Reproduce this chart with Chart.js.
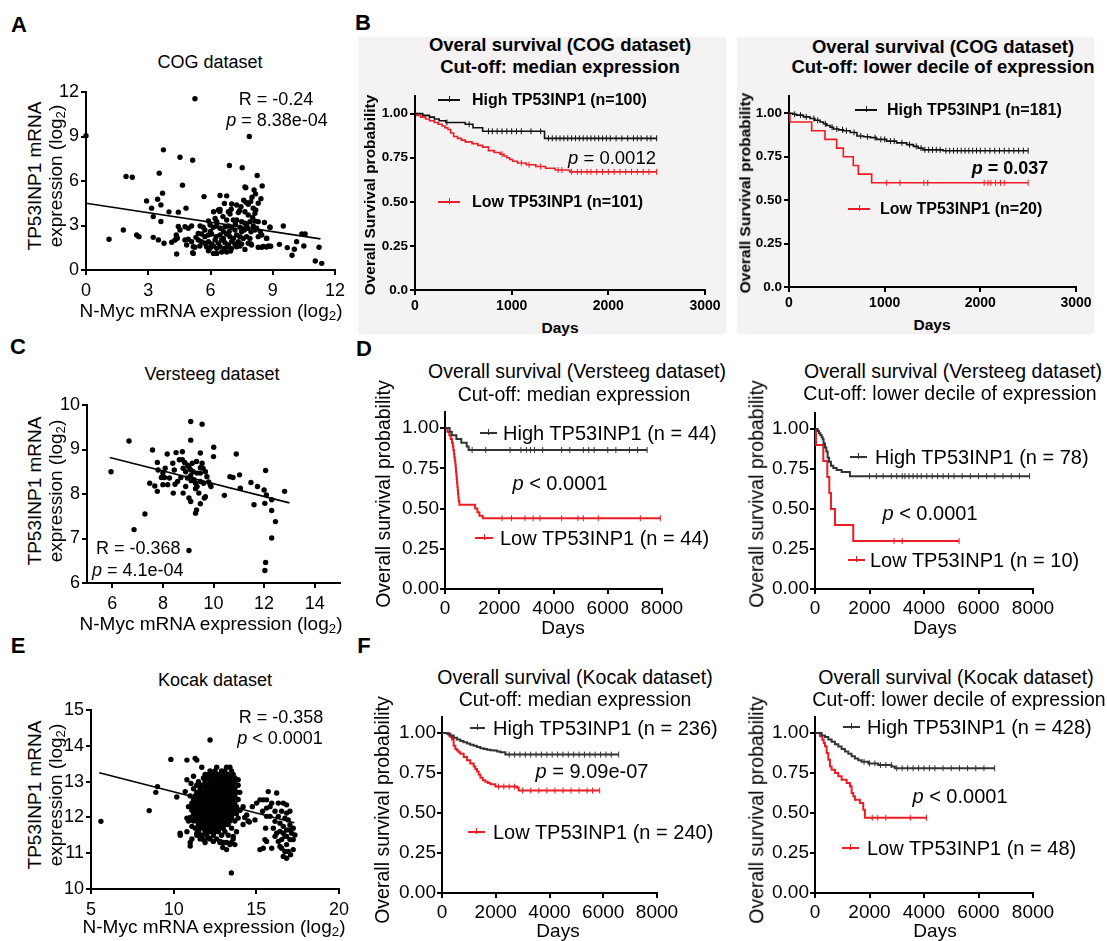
<!DOCTYPE html>
<html>
<head>
<meta charset="utf-8">
<script src="https://cdn.jsdelivr.net/npm/chart.js@4.4.0/dist/chart.umd.min.js"></script>
<style>
body { margin: 0; background: #fff; }
#page { position: relative; width: 1107px; height: 941px; overflow: hidden; font-family: 'Liberation Sans', Arial, sans-serif; color: #000; }
.t { position: absolute; white-space: nowrap; line-height: 1; }
.t sub { font-size: 0.7em; vertical-align: -0.25em; line-height: 0; }
canvas { position: absolute; }
.bg { position: absolute; background: #f4f2f2; }
</style>
</head>
<body>
<div id="page">
  <div class="bg" style="left:358px;top:37px;width:368px;height:297px"></div>
  <div class="bg" style="left:737px;top:37px;width:357px;height:297px"></div>
</div>
<script>
// ---- scatter data (x = N-Myc log2, y = TP53INP1 log2) ----
const cogPoints = [
  [5.25,11.54],[0,9.05],[7.87,9.0],[3.73,8.1],[4.53,7.6],[5.14,7.4],[6.91,7.05],[7.53,6.9],[3.53,6.53],
  [1.93,6.3],[2.23,6.25],[8.25,6.37],[4.65,5.72],[8.49,5.67],[7.66,5.6],[7.7,5.55],[8.1,5.4],[8.17,5.13],
  [3.69,5.18],[5.69,4.95],[6.46,5.02],[6.78,5.0],[8.43,4.8],[2.92,4.66],[3.45,4.77],[3.61,4.39],[4.82,4.17],
  [3.16,4.17],[3.24,3.6],[4.0,3.92],[4.45,3.9],[3.61,3.27],[1.8,2.7],[1.11,2.07],[2.44,2.36],[2.55,2.25],
  [3.24,2.2],[3.49,2.03],[3.76,1.8],[4.13,1.87],[4.4,2.14],[4.35,2.36],[4.45,2.93],[4.37,1.08],[4.85,1.69],
  [5.14,1.17],[5.25,1.53],[9.51,2.97],[8.86,2.88],[8.7,2.14],[9.32,1.73],[9.7,1.51],[9.93,0.99],[10.04,1.4],
  [10.15,1.91],[10.4,2.43],[10.56,2.43],[10.5,1.62],[11.23,1.53],[11.05,0.61],[11.36,0.45],[8.55,1.58],
  [8.7,1.55],[8.9,1.6],[6.67,4.49],[7.02,4.45],[7.26,4.38],[7.47,4.27],[7.71,4.56],[7.82,4.43],[7.94,4.61],
  [8.06,4.16],[8.18,4.04],[6.15,3.93],[6.38,4.04],[6.46,4.09],[6.86,3.93],[6.94,3.78],[7.34,3.87],[7.66,3.93],
  [7.82,3.71],[8.14,3.82],[8.03,3.55],[6.22,3.48],[6.3,3.26],[6.78,3.37],[7.1,3.37],[7.26,3.37],[7.5,3.26],
  [7.66,3.15],[7.9,3.26],[8.14,3.3],[8.3,3.26],[8.06,2.97],[8.22,2.81],[5.5,2.97],[5.65,2.88],[5.73,2.7],
  [5.98,3.03],[6.14,2.88],[6.3,2.97],[6.46,2.81],[6.7,2.92],[6.86,2.97],[7.02,2.88],[7.18,2.7],[7.42,2.88],
  [7.63,2.7],[7.79,2.81],[7.95,2.58],[5.09,2.97],[4.93,2.81],[4.77,2.92],[4.53,2.7],[5.41,2.47],[5.57,2.43],
  [5.73,2.25],[5.9,2.36],[6.05,2.43],[6.27,2.25],[6.46,2.36],[6.62,2.13],[6.78,2.43],[6.94,2.25],[7.1,2.13],
  [7.26,2.36],[7.42,2.25],[7.58,2.13],[7.74,2.25],[7.9,2.13],[8.3,2.25],[8.47,2.36],[4.29,2.02],[4.37,2.25],
  [4.77,2.02],[4.93,2.07],[5.09,1.91],[5.41,2.02],[5.57,1.91],[5.73,1.8],[5.9,1.91],[6.05,1.75],[6.22,2.02],
  [6.38,1.8],[6.54,2.02],[6.7,1.84],[6.86,1.69],[7.02,1.91],[7.18,1.75],[7.34,1.91],[7.5,1.75],[7.82,1.8],
  [7.98,1.69],[5.17,1.57],[5.49,1.62],[5.81,1.57],[5.98,1.46],[6.14,1.62],[6.3,1.46],[6.46,1.57],[6.67,1.46],
  [6.83,1.57],[7.02,1.46],[7.26,1.57],[7.42,1.62],[7.66,1.39],[7.95,1.75],[8.3,1.53],[8.47,1.53],[8.79,1.62],
  [5.17,1.12],[6.14,1.12],[5.9,1.3],[6.3,1.12],[6.54,1.21],[6.78,1.21],[6.97,1.28],[8.71,2.13],[8.87,2.88],
  [8.14,2.7],[7.74,3.03],[7.5,2.58],[6.62,2.58],[6.0,2.6],[5.3,2.2],[6.9,2.6],[7.2,3.1],[8.4,2.6],[8.6,3.2],
  [7.0,4.1],[7.4,4.0],[8.3,4.5],[8.0,4.9],[7.6,4.7],[6.6,3.6],[5.9,3.3],[6.45,3.95]
];
const cogFit = [[0, 4.5], [11.3, 2.1]];

const versteegPoints = [
  [5.95,8.50],[6.66,9.19],[6.86,7.20],[7.29,7.55],[7.48,8.24],[7.59,8.99],[7.68,8.18],[7.78,8.71],[7.78,8.06],
  [8.00,8.47],[8.09,8.58],[8.06,8.37],[8.00,8.21],[8.17,8.90],[8.19,8.21],[8.26,8.36],[8.45,8.54],[8.48,8.22],
  [8.52,8.93],[8.58,8.28],[8.65,8.77],[8.77,8.95],[8.77,8.77],[8.80,8.58],[8.71,8.37],[8.80,8.02],[8.86,8.71],
  [8.90,8.50],[8.97,8.65],[9.03,8.60],[9.10,8.54],[9.16,8.69],[9.20,8.50],[9.10,8.41],[9.12,8.30],[9.23,8.32],
  [9.03,7.91],[9.10,7.83],[9.29,7.57],[9.33,7.64],[9.10,9.63],[9.10,9.21],[9.55,9.57],[9.29,8.24],[9.35,8.17],
  [9.29,8.12],[9.42,8.02],[9.48,8.28],[9.48,8.59],[9.48,8.47],[9.55,8.69],[9.59,8.58],[9.48,8.92],[9.61,8.24],
  [9.64,7.91],[9.48,7.78],[9.68,7.94],[9.74,8.39],[9.81,8.27],[9.87,8.21],[9.90,8.17],[10.01,9.05],[10.00,8.84],
  [10.43,7.97],[10.65,8.39],[10.77,8.37],[10.90,8.90],[11.03,8.43],[11.06,8.13],[11.48,8.26],[11.60,7.76],
  [11.74,8.17],[12.00,8.09],[12.06,8.53],[12.03,7.79],[12.09,7.98],[12.30,7.87],[12.30,7.63],[12.30,7.01],
  [12.45,7.38],[12.06,6.46],[12.03,6.28],[12.81,8.06],[9.03,6.73],[8.41,8.02],[7.81,8.54],[7.94,8.37],
  [8.39,8.69],[9.33,8.73],[8.97,8.36],[8.90,8.17],[9.68,8.50],[9.35,8.47]
];
const versteegFit = [[5.9, 8.82], [13.0, 7.8]];

const kocakOuter = [
  [5.6,11.89],[8.52,12.19],[8.92,12.7],[9.02,12.86],[9.83,13.62],[10.19,12.57],[10.39,11.56],[10.8,13.6],
  [11.3,13.65],[11.4,13.6],[12.2,14.16],[13.49,10.45],[11.7,13.4],[10.9,11.9],[11.0,11.2],[13.0,11.3],
  [13.2,11.1],[14.2,11.8],[14.5,11.9],[13.5,11.3],[12.81,11.33],[12.97,11.16],[12.4,11.33],[11.4,11.56],
  [11.1,11.75],[10.8,11.98],[10.7,12.72],[10.8,13.05],[14.0,12.2],[13.9,11.98],[14.3,12.0],[13.6,11.47],
  [13.7,11.24],[13.4,11.24],[11.8,11.38],[12.1,11.42],[11.2,13.15],[13.9,13.05],[11.05,12.95],
  [14.42,12.07],[14.76,12.3],[15.02,12.4],[15.22,12.49],[15.42,12.49],[15.72,12.72],[15.83,12.3],[16.23,12.68],
  [16.33,12.4],[16.53,12.17],[16.83,12.12],[17.03,12.17],[16.13,11.89],[16.43,11.84],[16.63,11.75],[16.83,11.65],
  [17.03,11.79],[17.13,11.56],[16.73,11.47],[16.53,11.38],[16.43,11.19],[16.83,11.24],[16.93,11.05],[17.07,10.96],
  [17.23,11.1],[17.33,11.51],[17.23,11.7],[16.03,11.7],[15.56,11.7],[15.52,11.38],[15.42,11.14],[15.22,11.1],
  [15.62,11.33],[15.93,11.14],[16.23,11.56],[15.83,12.03],[15.62,12.03],[15.62,12.26],[15.38,12.17],[14.92,11.93],
  [14.58,11.87],[16.63,10.91],[16.83,10.86],[16.33,12.03],[16.73,11.98],[16.93,11.93],[17.03,11.65],[16.43,11.61],
  [16.63,11.56],[16.83,11.47],[16.33,11.33],[16.13,11.47],[17.03,11.38],[17.23,11.38],[16.53,11.14],[16.73,11.05],
  [16.13,12.17],[15.93,12.4],[15.62,12.49],[16.83,12.35],[16.63,12.4]
];
// dense cloud, one row per y level: [y, x values]
const kocakCore = [
  [13.4, [12.6, 13.2, 13.4]],
  [13.3, [12.2, 12.5, 12.9, 13.1, 13.5]],
  [13.2, [11.9, 12.1, 12.4, 12.7, 13.0, 13.3, 13.6]],
  [13.1, [11.8, 12.0, 12.3, 12.6, 12.8, 13.0, 13.2, 13.4, 13.7]],
  [13.0, [11.5, 11.9, 12.2, 12.4, 12.6, 12.9, 13.1, 13.3, 13.5, 13.7]],
  [12.9, [11.4, 11.7, 12.0, 12.3, 12.5, 12.7, 12.8, 13.0, 13.2, 13.4, 13.6, 13.9]],
  [12.8, [11.2, 11.6, 11.9, 12.1, 12.3, 12.5, 12.7, 12.9, 13.1, 13.3, 13.5, 13.7]],
  [12.7, [11.4, 11.6, 11.8, 12.0, 12.2, 12.4, 12.6, 12.8, 13.0, 13.2, 13.4, 13.6, 13.8, 14.0]],
  [12.6, [11.0, 11.3, 11.5, 11.7, 11.9, 12.1, 12.3, 12.5, 12.7, 12.9, 13.1, 13.3, 13.5, 13.7]],
  [12.5, [11.2, 11.4, 11.6, 11.8, 12.0, 12.2, 12.4, 12.6, 12.8, 13.0, 13.2, 13.4, 13.6, 13.9]],
  [12.4, [11.1, 11.3, 11.5, 11.7, 11.9, 12.1, 12.3, 12.5, 12.7, 12.9, 13.1, 13.3, 13.5, 13.7]],
  [12.3, [10.9, 11.2, 11.4, 11.6, 11.8, 12.0, 12.2, 12.4, 12.6, 12.8, 13.0, 13.2, 13.4, 13.6, 13.8, 14.2]],
  [12.2, [11.1, 11.3, 11.5, 11.7, 11.9, 12.1, 12.3, 12.5, 12.7, 12.9, 13.1, 13.3, 13.5, 13.7, 14.0]],
  [12.1, [11.2, 11.4, 11.6, 11.8, 12.0, 12.2, 12.4, 12.6, 12.8, 13.0, 13.2, 13.4, 13.6, 13.8]],
  [12.0, [11.0, 11.3, 11.5, 11.7, 11.9, 12.1, 12.3, 12.5, 12.7, 12.9, 13.1, 13.3, 13.5]],
  [11.9, [11.2, 11.4, 11.6, 11.8, 12.0, 12.2, 12.4, 12.6, 12.8, 13.0, 13.2, 13.4, 13.7]],
  [11.8, [11.5, 11.7, 11.9, 12.1, 12.3, 12.5, 12.7, 12.9, 13.1, 13.3]],
  [11.7, [11.3, 11.6, 11.8, 12.0, 12.2, 12.4, 12.6, 12.8, 13.0, 13.5]],
  [11.6, [10.8, 11.5, 11.9, 12.1, 12.3, 12.5, 12.7, 13.1, 13.8]],
  [11.5, [10.4, 11.4, 11.7, 12.0, 12.4, 12.9, 13.3]],
  [11.4, [11.1, 11.6, 12.2, 12.6, 13.6]],
  [11.3, [11.0, 11.9, 12.8, 13.2]]
];
const kocakFit = [[5.5, 13.25], [17.3, 11.85]];

// ---- survival curves: event times (days) and survival after each step ----
const cogMedHighT = [0, 80, 150, 200, 250, 320, 520, 600, 700, 1340, 2500];
const cogMedHighS = [1, 0.99, 0.98, 0.97, 0.96, 0.95, 0.94, 0.92, 0.90, 0.86, 0.86];
const cogMedHighCens = [330, 560, 760, 800, 850, 900, 950, 1000, 1050, 1100, 1200, 1300, 1380, 1420, 1460, 1500, 1540, 1580, 1620, 1660, 1700, 1740, 1780, 1820, 1860, 1900, 1940, 1980, 2020, 2080, 2140, 2200, 2260, 2300, 2340, 2400, 2440, 2500];
const cogMedLowT = [0, 20, 60, 110, 150, 200, 240, 280, 310, 340, 370, 400, 440, 480, 520, 590, 650, 700, 760, 820, 880, 920, 950, 980, 1010, 1060, 1150, 1250, 1350, 1450, 1600, 2500];
const cogMedLowS = [1, .99, .98, .97, .96, .95, .94, .93, .92, .91, .89, .87, .86, .85, .84, .83, .82, .81, .79, .78, .77, .76, .75, .74, .73, .72, .71, .70, .69, .68, .67, .67];
const cogMedLowCens = [900, 1100, 1180, 1300, 1480, 1520, 1620, 1680, 1720, 1780, 1820, 1880, 1940, 2000, 2060, 2120, 2180, 2240, 2300, 2360, 2420, 2500];

const cogDecHighT = [0, 40, 80, 150, 220, 270, 325, 360, 395, 430, 465, 520, 570, 640, 710, 780, 850, 915, 1020, 1125, 1230, 1300, 1350, 1400, 1610, 2500];
const cogDecHighS = [1, .995, .99, .98, .97, .96, .95, .94, .93, .92, .91, .905, .90, .89, .87, .865, .86, .85, .84, .83, .82, .81, .80, .79, .785, .785];
const cogDecHighCens = [60, 120, 180, 260, 300, 380, 450, 500, 560, 600, 680, 750, 820, 900, 960, 1000, 1060, 1100, 1180, 1260, 1330, 1380, 1420, 1460, 1500, 1540, 1580, 1640, 1680, 1720, 1760, 1800, 1840, 1880, 1920, 1960, 2000, 2050, 2100, 2150, 2200, 2250, 2300, 2350, 2400, 2450, 2500];
const cogDecLowT = [0, 10, 237, 376, 498, 568, 672, 725, 864, 2500];
const cogDecLowS = [1, .95, .90, .85, .80, .75, .70, .65, .60, .60];
const cogDecLowCens = [1020, 1160, 1410, 1450, 2040, 2080, 2110, 2160, 2210, 2250, 2500];

const verMedHighT = [0, 170, 250, 420, 600, 800, 870, 7450];
const verMedHighS = [1, .977, .955, .932, .909, .886, .864, .864];
const verMedHighCens = [1000, 1500, 2400, 2800, 3000, 3150, 3300, 3600, 4300, 4600, 5100, 5300, 5500, 6000, 6300, 6800, 7100, 7450];
const verMedLowT = [0, 86, 160, 209, 258, 290, 308, 330, 345, 365, 382, 395, 406, 420, 431, 445, 455, 470, 480, 495, 505, 530, 1108, 1194, 1268, 1391, 7940];
const verMedLowS = [1, .977, .955, .932, .909, .886, .864, .841, .818, .795, .773, .750, .727, .705, .682, .659, .636, .614, .591, .568, .545, .523, .50, .477, .455, .44, .44];
const verMedLowCens = [2100, 2450, 2950, 3250, 3500, 4300, 4900, 5100, 5650, 7200, 7940];

const verDecHighT = [0, 98, 147, 195, 244, 281, 317, 366, 415, 464, 513, 586, 672, 794, 977, 1282, 7875];
const verDecHighS = [1, .987, .974, .962, .949, .936, .91, .885, .86, .82, .795, .77, .756, .744, .731, .705, .705];
const verDecHighCens = [2000, 2250, 2500, 2800, 3000, 3200, 3300, 3450, 3600, 3750, 3900, 4100, 4300, 4500, 4700, 4900, 5100, 5400, 5700, 6000, 6300, 6600, 6900, 7200, 7500, 7875];
const verDecLowT = [0, 37, 305, 452, 525, 586, 733, 1404, 5287];
const verDecLowS = [1, .9, .8, .7, .6, .5, .4, .3, .3];
const verDecLowCens = [2900, 3200, 5287];

const kocMedHighT = [0, 186, 310, 434, 560, 682, 800, 930, 1050, 1178, 1300, 1427, 1550, 1675, 1800, 1923, 2050, 2171, 2357, 6576];
const kocMedHighS = [1, .995, .985, .97, .96, .95, .942, .935, .927, .92, .912, .905, .90, .895, .892, .89, .885, .88, .865, .865];
const kocMedHighCens = [2500, 2700, 2900, 3100, 3300, 3500, 3700, 3900, 4100, 4300, 4500, 4700, 4900, 5100, 5300, 5500, 5700, 5900, 6100, 6300, 6576];
const kocMedLowT = [0, 248, 310, 372, 434, 496, 558, 620, 682, 806, 930, 1054, 1178, 1240, 1303, 1365, 1427, 1520, 1613, 1706, 1799, 1985, 2791, 2853, 5868];
const kocMedLowS = [1, .985, .975, .96, .92, .90, .89, .88, .87, .85, .83, .81, .79, .775, .76, .74, .72, .705, .695, .688, .68, .665, .66, .64, .64];
const kocMedLowCens = [2100, 2300, 2500, 2700, 3000, 3300, 3600, 3900, 4200, 4500, 4800, 5100, 5400, 5600, 5868];

const kocDecHighT = [0, 244, 366, 488, 610, 733, 855, 977, 1099, 1221, 1343, 1465, 1587, 1709, 1954, 2320, 2808, 2930, 6593];
const kocDecHighS = [1, .985, .975, .96, .945, .93, .915, .90, .885, .87, .855, .84, .83, .82, .81, .80, .79, .78, .78];
const kocDecHighCens = [1800, 2000, 2200, 2400, 2600, 2800, 3000, 3200, 3400, 3600, 3800, 4000, 4200, 4400, 4700, 5000, 5300, 5600, 5900, 6200, 6593];
const kocDecLowT = [0, 183, 269, 320, 366, 427, 488, 549, 610, 733, 855, 977, 1160, 1282, 1343, 1404, 1465, 1648, 1770, 1831, 4090];
const kocDecLowS = [1, .98, .958, .938, .917, .875, .833, .79, .77, .75, .729, .708, .688, .667, .625, .604, .583, .563, .52, .47, .47];
const kocDecLowCens = [2100, 2300, 2600, 3500, 4090];

// ---- tick values / labels ----
const cogTicks = [0, 3, 6, 9, 12];
const versteegXTicks = [6, 8, 10, 12, 14];
const versteegYTicks = [6, 7, 8, 9, 10];
const kocakXTicks = [5, 10, 15, 20];
const kocakYTicks = [10, 11, 12, 13, 14, 15];
const cogDaysTicks = [0, 1000, 2000, 3000];
const longDaysTicks = [0, 2000, 4000, 6000, 8000];
const survTicks = [0, 0.25, 0.5, 0.75, 1];
const survLabelsB = ['0.0', '0.25', '0.50', '0.75', '1.00'];
const survLabels = ['0.00', '0.25', '0.50', '0.75', '1.00'];

const RED = '#ec1c24';
const page = document.getElementById('page');
Chart.defaults.font.family = "'Liberation Sans', Arial, sans-serif";
Chart.defaults.color = '#000';

function txt(html, x, y, o = {}) {
  const d = document.createElement('div');
  d.className = 't';
  d.innerHTML = html;
  d.style.left = x + 'px';
  d.style.top = y + 'px';
  d.style.fontSize = (o.size || 18) + 'px';
  if (o.bold) d.style.fontWeight = 'bold';
  const ax = o.align === 'left' ? '0' : '-50%';
  d.style.transform = `translate(${ax},-50%)` + (o.rot ? ' rotate(-90deg)' : '');
  page.appendChild(d);
}

function seg(x, y, w, color) {
  const a = document.createElement('div');
  a.style.cssText = `position:absolute;left:${x}px;top:${y - 1}px;width:${w}px;height:2px;background:${color}`;
  const k = document.createElement('div');
  k.style.cssText = `position:absolute;left:${x + w / 2 - 0.5}px;top:${y - 4}px;width:1px;height:6px;background:${color}`;
  page.appendChild(a);
  page.appendChild(k);
}

const survAt = (ts, ss, t) => {
  let v = ss[0];
  ts.forEach((x, i) => { if (x <= t) v = ss[i]; });
  return v;
};

function kmSets(ts, ss, cens, color, lw) {
  return [
    { type: 'line', data: ts.map((t, i) => ({ x: t, y: ss[i] })), stepped: true, borderColor: color, borderWidth: lw, pointRadius: 0, fill: false },
    { type: 'scatter', data: cens.map(t => ({ x: t, y: survAt(ts, ss, t) })), pointStyle: 'line', pointRotation: 90, pointRadius: 3, borderColor: color, pointBorderColor: color, borderWidth: 1, clip: false }
  ];
}

const dots = pts => ({ type: 'scatter', data: pts.map(p => ({ x: p[0], y: p[1] })), pointRadius: 2.7, backgroundColor: '#000', borderWidth: 0, clip: false });
const fit = pts => ({ type: 'line', data: pts.map(p => ({ x: p[0], y: p[1] })), borderColor: '#000', borderWidth: 1.6, pointRadius: 0 });

function axis(min, max, ticks, size, bold, labels, pad) {
  return {
    type: 'linear', min, max,
    afterBuildTicks: s => { s.ticks = ticks.map(v => ({ value: v })); },
    border: { color: '#000', width: 2 },
    grid: { drawOnChartArea: false, color: '#000', lineWidth: 2, tickLength: 5 },
    ticks: {
      font: { size, weight: bold ? 'bold' : 'normal' }, color: '#000', padding: pad, maxRotation: 0, autoSkip: false,
      callback: (v, i) => labels ? labels[i] : v
    }
  };
}

function makeChart(a, datasets, x, y) {
  const c = document.createElement('canvas');
  const w = a.r - a.l + a.yw + 30, h = a.b - a.t + 15 + a.xh;
  c.width = w; c.height = h;
  c.style.left = (a.l - a.yw) + 'px';
  c.style.top = (a.t - 15) + 'px';
  c.style.width = w + 'px';
  c.style.height = h + 'px';
  page.appendChild(c);
  x.afterFit = s => { s.height = a.xh; };
  y.afterFit = s => { s.width = a.yw; };
  new Chart(c, {
    type: 'scatter',
    data: { datasets },
    options: {
      responsive: false, animation: false, devicePixelRatio: 1,
      layout: { padding: { top: 15, right: 30, left: 0, bottom: 0 } },
      plugins: { legend: { display: false }, tooltip: { enabled: false } },
      scales: { x, y }
    }
  });
}

// ---- A: COG scatter ----
makeChart({ l: 86, t: 92, r: 335, b: 270, yw: 40, xh: 30 },
  [dots(cogPoints), fit(cogFit)],
  axis(0, 12, cogTicks, 18, false, null, 5), axis(0, 12, cogTicks, 18, false, null, 2));

// ---- C: Versteeg scatter ----
makeChart({ l: 87, t: 405, r: 340, b: 583, yw: 40, xh: 30 },
  [dots(versteegPoints), fit(versteegFit)],
  axis(5, 15, versteegXTicks, 18, false, null, 5), axis(6, 10, versteegYTicks, 18, false, null, 2));

// ---- E: Kocak scatter ----
const kocakPoints = kocakOuter.concat(kocakCore.flatMap(([yv, xs]) => xs.map(xv => [xv, yv])));
makeChart({ l: 91, t: 710, r: 339, b: 889, yw: 40, xh: 30 },
  [dots(kocakPoints), fit(kocakFit)],
  axis(5, 20, kocakXTicks, 18, false, null, 5), axis(10, 15, kocakYTicks, 18, false, null, 2));

// ---- B: COG survival ----
makeChart({ l: 415, t: 96, r: 705, b: 290, yw: 40, xh: 25 },
  [...kmSets(cogMedHighT, cogMedHighS, cogMedHighCens, '#111', 1.6), ...kmSets(cogMedLowT, cogMedLowS, cogMedLowCens, RED, 1.6)],
  axis(0, 3000, cogDaysTicks, 14, true, null, 3), axis(0, 1.1, survTicks, 13.5, true, survLabelsB, 2));
makeChart({ l: 789, t: 96, r: 1076, b: 287, yw: 40, xh: 25 },
  [...kmSets(cogDecHighT, cogDecHighS, cogDecHighCens, '#111', 1.6), ...kmSets(cogDecLowT, cogDecLowS, cogDecLowCens, RED, 1.6)],
  axis(0, 3000, cogDaysTicks, 14, true, null, 3), axis(0, 1.1, survTicks, 13.5, true, survLabelsB, 2));

// ---- D: Versteeg survival ----
makeChart({ l: 445, t: 412, r: 662, b: 589, yw: 55, xh: 30 },
  [...kmSets(verMedHighT, verMedHighS, verMedHighCens, '#333', 2), ...kmSets(verMedLowT, verMedLowS, verMedLowCens, RED, 2)],
  axis(0, 8000, longDaysTicks, 19, false, null, 3), axis(0, 1.1, survTicks, 19, false, survLabels, 1));
makeChart({ l: 815, t: 413, r: 1033, b: 589, yw: 55, xh: 30 },
  [...kmSets(verDecHighT, verDecHighS, verDecHighCens, '#333', 2), ...kmSets(verDecLowT, verDecLowS, verDecLowCens, RED, 2)],
  axis(0, 8000, longDaysTicks, 19, false, null, 3), axis(0, 1.1, survTicks, 19, false, survLabels, 1));

// ---- F: Kocak survival ----
makeChart({ l: 442, t: 717, r: 657, b: 893, yw: 55, xh: 30 },
  [...kmSets(kocMedHighT, kocMedHighS, kocMedHighCens, '#333', 2), ...kmSets(kocMedLowT, kocMedLowS, kocMedLowCens, RED, 2)],
  axis(0, 8000, longDaysTicks, 19, false, null, 3), axis(0, 1.1, survTicks, 19, false, survLabels, 1));
makeChart({ l: 815, t: 717, r: 1033, b: 893, yw: 55, xh: 30 },
  [...kmSets(kocDecHighT, kocDecHighS, kocDecHighCens, '#333', 2), ...kmSets(kocDecLowT, kocDecLowS, kocDecLowCens, RED, 2)],
  axis(0, 8000, longDaysTicks, 19, false, null, 3), axis(0, 1.1, survTicks, 19, false, survLabels, 1));

// ---- panel letters ----
txt('A', 19, 25, { size: 22, bold: true });
txt('B', 363, 23, { size: 22, bold: true });
txt('C', 18, 347, { size: 22, bold: true });
txt('D', 364, 349, { size: 22, bold: true });
txt('E', 18, 646, { size: 22, bold: true });
txt('F', 364, 646, { size: 22, bold: true });

// ---- scatter texts ----
const yt1 = 'TP53INP1 mRNA', yt2 = 'expression (log<sub>2</sub>)', xt = 'N-Myc mRNA expression (log<sub>2</sub>)';
txt('COG dataset', 210, 62, { size: 18 });
txt('R = -0.24', 276, 99, { size: 18 });
txt('<i>p</i> = 8.38e-04', 277, 120, { size: 18 });
txt(yt1, 34, 176, { size: 19, rot: true });
txt(yt2, 55, 176, { size: 19, rot: true });
txt(xt, 211, 310, { size: 19 });

txt('Versteeg dataset', 212, 374, { size: 18 });
txt('R = -0.368', 96, 548, { size: 18, align: 'left' });
txt('<i>p</i> = 4.1e-04', 92, 570, { size: 18, align: 'left' });
txt(yt1, 34, 491, { size: 19, rot: true });
txt(yt2, 55, 491, { size: 19, rot: true });
txt(xt, 211, 623, { size: 19 });

txt('Kocak dataset', 215, 680, { size: 18 });
txt('R = -0.358', 281, 717, { size: 18 });
txt('<i>p</i> &lt; 0.0001', 280, 738, { size: 18 });
txt(yt1, 34, 795, { size: 19, rot: true });
txt(yt2, 55, 795, { size: 19, rot: true });
txt(xt, 214, 926, { size: 19 });

// ---- B texts ----
txt('Overal survival (COG dataset)', 560, 45, { size: 18.5, bold: true });
txt('Cut-off: median expression', 560, 67, { size: 18.5, bold: true });
seg(438, 100, 22, '#111'); txt('High TP53INP1 (n=100)', 472, 100, { size: 16, bold: true, align: 'left' });
seg(438, 202, 22, RED); txt('Low TP53INP1 (n=101)', 472, 202, { size: 16, bold: true, align: 'left' });
txt('<i>p</i> = 0.0012', 612, 158, { size: 18.5 });
txt('Overall Survival probability', 370, 195, { size: 15.5, bold: true, rot: true });
txt('Days', 560, 328, { size: 15.5, bold: true });

txt('Overal survival (COG dataset)', 943, 47, { size: 18.5, bold: true });
txt('Cut-off: lower decile of expression', 943, 67, { size: 18.5, bold: true });
seg(855, 110, 22, '#111'); txt('High TP53INP1 (n=181)', 887, 110, { size: 16, bold: true, align: 'left' });
seg(848, 209, 22, RED); txt('Low TP53INP1 (n=20)', 880, 209, { size: 16, bold: true, align: 'left' });
txt('<i>p</i> = 0.037', 1010, 168, { size: 18, bold: true });
txt('Overall Survival probability', 745, 193, { size: 15.5, bold: true, rot: true });
txt('Days', 932, 325, { size: 15.5, bold: true });

// ---- D texts ----
txt('Overall survival (Versteeg dataset)', 577, 372, { size: 19.5 });
txt('Cut-off: median expression', 574, 395, { size: 19.5 });
seg(480, 433, 17, '#333'); txt('High TP53INP1 (n = 44)', 503, 433, { size: 20, align: 'left' });
seg(475, 538, 18, RED); txt('Low TP53INP1 (n = 44)', 500, 538, { size: 20, align: 'left' });
txt('<i>p</i> &lt; 0.0001', 560, 483, { size: 20 });
txt('Overall survival probability', 384, 494, { size: 19.5, rot: true });
txt('Days', 563, 627, { size: 19 });

txt('Overall survival (Versteeg dataset)', 953, 372, { size: 19.5 });
txt('Cut-off: lower decile of expression', 950, 394, { size: 19.5 });
seg(850, 457, 17, '#333'); txt('High TP53INP1 (n = 78)', 875, 457, { size: 20, align: 'left' });
seg(848, 560, 17, RED); txt('Low TP53INP1 (n = 10)', 870, 560, { size: 20, align: 'left' });
txt('<i>p</i> &lt; 0.0001', 930, 513, { size: 20 });
txt('Overall survival probability', 757, 494, { size: 19.5, rot: true });
txt('Days', 935, 627, { size: 19 });

// ---- F texts ----
txt('Overall survival (Kocak dataset)', 575, 678, { size: 19.5 });
txt('Cut-off: median expression', 575, 700, { size: 19.5 });
seg(470, 728, 15, '#333'); txt('High TP53INP1 (n = 236)', 493, 728, { size: 20, align: 'left' });
seg(468, 832, 17, RED); txt('Low TP53INP1 (n = 240)', 493, 832, { size: 20, align: 'left' });
txt('<i>p</i> = 9.09e-07', 592, 771, { size: 20 });
txt('Overall survival probability', 383, 810, { size: 19.5, rot: true });
txt('Days', 558, 930, { size: 19 });

txt('Overall survival (Kocak dataset)', 956, 678, { size: 19.5 });
txt('Cut-off: lower decile of expression', 959, 700, { size: 19.5 });
seg(843, 727, 17, '#333'); txt('High TP53INP1 (n = 428)', 867, 727, { size: 20, align: 'left' });
seg(842, 848, 17, RED); txt('Low TP53INP1 (n = 48)', 867, 848, { size: 20, align: 'left' });
txt('<i>p</i> &lt; 0.0001', 960, 796, { size: 20 });
txt('Overall survival probability', 757, 810, { size: 19.5, rot: true });
txt('Days', 935, 930, { size: 19 });
</script>
</body>
</html>
